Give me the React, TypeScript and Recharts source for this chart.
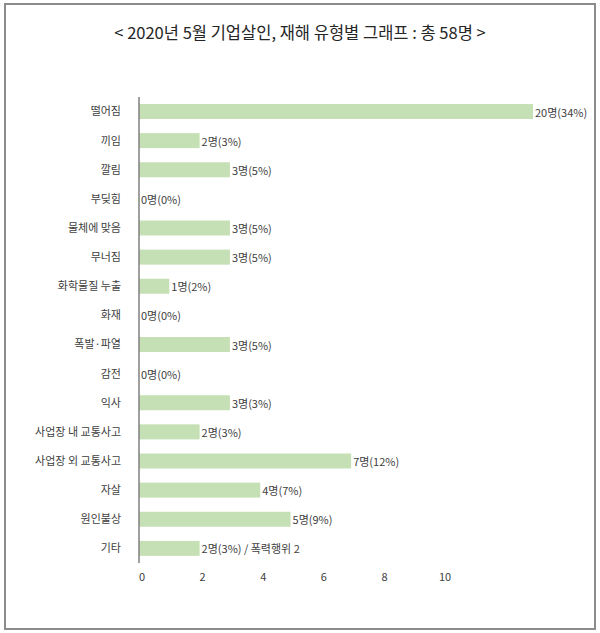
import { BarChart, Bar, XAxis, YAxis } from "recharts";

const categories = [
  "떨어짐",
  "끼임",
  "깔림",
  "부딪힘",
  "물체에 맞음",
  "무너짐",
  "화학물질 누출",
  "화재",
  "폭발·파열",
  "감전",
  "익사",
  "사업장 내 교통사고",
  "사업장 외 교통사고",
  "자살",
  "원인불상",
  "기타",
];
const counts = [20, 2, 3, 0, 3, 3, 1, 0, 3, 0, 3, 2, 7, 4, 5, 2];
const percents = [34, 3, 5, 0, 5, 5, 2, 0, 5, 0, 3, 3, 12, 7, 9, 3];
const notes = ["", "", "", "", "", "", "", "", "", "", "", "", "", "", "", " / 폭력행위 2"];
const xTicks = [0, 2, 4, 6, 8, 10];
const X_MAX = 13; // axis stops at 13, the long bar is cut off there

const FONT = '"Malgun Gothic", "Noto Sans CJK KR", sans-serif';
const LABEL_STYLE = { fontSize: 11, fill: "#404040", fontFamily: FONT };
const BAR_COLOR = "#c5e0b4";

const data = categories.map((name, i) => ({
  name,
  count: Math.min(counts[i], X_MAX),
  label: `${counts[i]}명(${percents[i]}%)${notes[i]}`,
}));

// bar + its value label; done in the shape so the 0 rows still get a label
const BarWithLabel = (props: any) => {
  const { x, y, width, height, payload } = props;
  const w = Math.max(0, Number(width) || 0);
  return (
    <g>
      {w > 0 && <rect x={x} y={y} width={w} height={height} fill={BAR_COLOR} />}
      <text
        x={Number(x) + w + 2}
        y={Number(y) + Number(height) / 2}
        dominantBaseline="central"
        style={LABEL_STYLE}
      >
        {payload?.label}
      </text>
    </g>
  );
};

export default function App() {
  return (
    <div style={{ position: "absolute", left: 0, top: 0, width: 600, height: 633, background: "#fff", fontFamily: FONT }}>
      <div
        style={{
          position: "absolute",
          left: 4,
          top: 3,
          width: 592,
          height: 627,
          boxSizing: "border-box",
          border: "2px solid #8c8c8c",
        }}
      />
      <div
        style={{
          position: "absolute",
          left: 0,
          top: 22,
          width: 600,
          lineHeight: "20px",
          textAlign: "center",
          fontSize: 16.5,
          color: "#262626",
        }}
      >
        &lt; 2020년 5월 기업살인, 재해 유형별 그래프 : 총 58명 &gt;
      </div>
      <div style={{ position: "absolute", left: 0, top: 0 }}>
        <BarChart
          width={600}
          height={633}
          data={data}
          layout="vertical"
          margin={{ top: 97, right: 67, bottom: 40, left: 0 }}
        >
          <XAxis
            type="number"
            domain={[0, X_MAX]}
            ticks={xTicks}
            axisLine={false}
            tickLine={false}
            tickMargin={4}
            height={30}
            tick={{ fontSize: 11, fill: "#404040", fontFamily: FONT, dx: 3 }}
          />
          <YAxis
            type="category"
            dataKey="name"
            width={139}
            axisLine={{ stroke: "#7f7f7f", strokeWidth: 1.5 }}
            tickLine={false}
            tickMargin={12}
            interval={0}
            tick={{ fontSize: 11, fill: "#404040", fontFamily: FONT }}
          />
          <Bar
            dataKey="count"
            fill={BAR_COLOR}
            barSize={15}
            shape={BarWithLabel}
            isAnimationActive={false}
          />
        </BarChart>
      </div>
    </div>
  );
}
